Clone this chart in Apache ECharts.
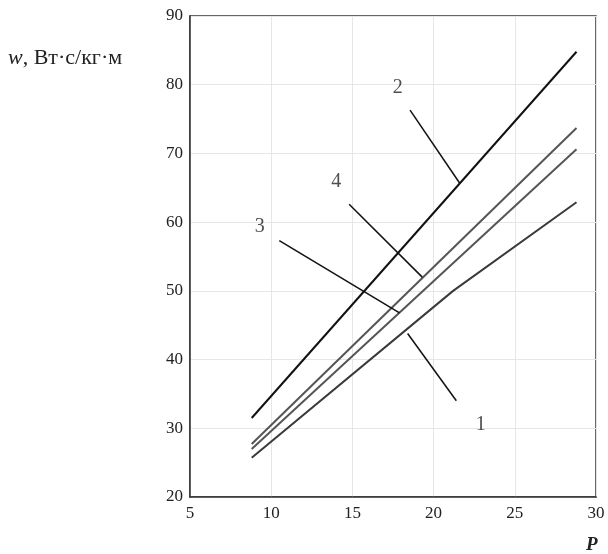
<!DOCTYPE html>
<html>
<head>
<meta charset="utf-8">
<script src="https://cdn.jsdelivr.net/npm/echarts@6/dist/echarts.min.js"></script>
<style>
  html, body { margin: 0; padding: 0; background: #fff; }
  #chart { width: 608px; height: 554px; }
</style>
</head>
<body>
<div id="chart"></div>
<script>
// curves: [P, w]
const curve1 = [[8.8, 25.7], [21.2, 50.0], [28.8, 62.9]]
const curve2 = [[8.8, 31.5], [28.8, 84.8]]
const curve3 = [[8.8, 27.0], [28.8, 70.6]]
const curve4 = [[8.8, 27.7], [28.8, 73.7]]

// leader lines from label to curve
const leader1 = [[18.4, 43.8], [21.4, 34.0]]
const leader2 = [[18.55, 76.3], [21.6, 65.7]]
const leader3 = [[10.5, 57.3], [17.9, 46.8]]
const leader4 = [[14.8, 62.6], [19.3, 52.0]]

const labelNames = ['1', '2', '3', '4']
const labelPos = [[22.9, 30.5], [17.8, 79.5], [9.3, 59.3], [14.0, 65.9]]

const xTicks = [5, 10, 15, 20, 25, 30]
const yTicks = [20, 30, 40, 50, 60, 70, 80, 90]

const font = '"Liberation Serif", "DejaVu Serif", serif'

const chart = echarts.init(document.getElementById('chart'))

const curveSeries = (data, color) => ({
  type: 'line',
  data,
  symbol: 'none',
  silent: true,
  lineStyle: { color, width: 2 }
})

const leaderSeries = (data) => ({
  type: 'line',
  data,
  symbol: 'none',
  silent: true,
  lineStyle: { color: '#111', width: 1.5 }
})

chart.setOption({
  animation: false,
  grid: {
    left: 190, right: 12, top: 16, bottom: 57,
    show: true, borderColor: '#333', borderWidth: 1.5
  },
  xAxis: {
    type: 'value',
    min: xTicks[0], max: xTicks[xTicks.length - 1], interval: 5,
    axisLine: { show: true, lineStyle: { color: '#333', width: 1.5 } },
    axisTick: { show: false },
    axisLabel: { color: '#222', fontFamily: font, fontSize: 17, margin: 8 },
    splitLine: { show: true, lineStyle: { color: '#e6e6e6' } }
  },
  yAxis: {
    type: 'value',
    min: yTicks[0], max: yTicks[yTicks.length - 1], interval: 10,
    axisLine: { show: true, lineStyle: { color: '#333', width: 1.5 } },
    axisTick: { show: false },
    axisLabel: { color: '#222', fontFamily: font, fontSize: 17, margin: 7 },
    splitLine: { show: true, lineStyle: { color: '#e6e6e6' } }
  },
  graphic: [{
    type: 'text',
    left: 8,
    top: 47,
    style: {
      text: '{i|w}, Вт·с/кг·м',
      font: '22px ' + font,
      fill: '#222',
      rich: { i: { fontStyle: 'italic', fontFamily: font, fontSize: 22 } }
    }
  }, {
    type: 'text',
    left: 586,
    top: 536,
    style: {
      text: 'P',
      font: 'italic bold 19px ' + font,
      fill: '#222'
    }
  }],
  series: [
    curveSeries(curve1, '#3a3a3a'),
    curveSeries(curve2, '#111'),
    curveSeries(curve3, '#555'),
    curveSeries(curve4, '#555'),
    leaderSeries(leader1),
    leaderSeries(leader2),
    leaderSeries(leader3),
    leaderSeries(leader4),
    {
      type: 'scatter',
      symbolSize: 0,
      silent: true,
      data: labelPos.map((p, i) => ({ value: p, name: labelNames[i] })),
      label: {
        show: true,
        position: 'inside',
        formatter: '{b}',
        fontFamily: font,
        fontSize: 20,
        color: '#222'
      }
    }
  ]
})

window.addEventListener('resize', () => chart.resize())
</script>
</body>
</html>
